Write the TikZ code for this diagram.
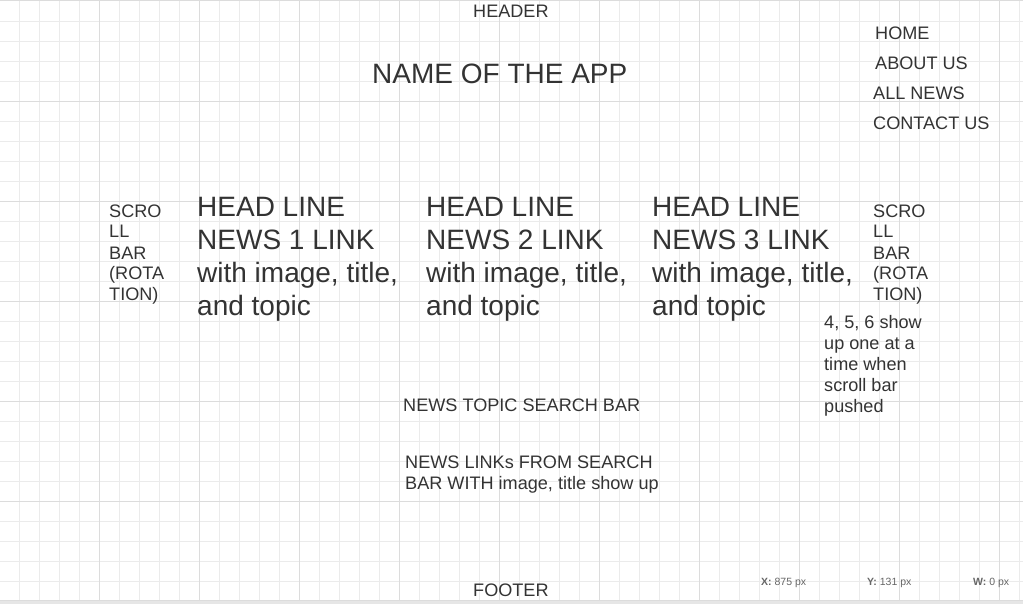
\documentclass[tikz,border=0pt]{standalone}
\usepackage{fontspec}
\setmainfont{Liberation Sans}
\definecolor{txt}{HTML}{333333}
\definecolor{gridminor}{HTML}{EBEBEB}
\definecolor{gridmajor}{HTML}{DCDCDC}
\definecolor{band}{HTML}{E6E6E6}
\definecolor{stat}{HTML}{666666}
\tikzset{
  minorline/.style={draw=gridminor, line width=1pt},
  majorline/.style={draw=gridmajor, line width=1pt},
  big/.style={anchor=base west, inner sep=0pt, align=left, text=txt, font=\fontsize{28}{32.67}\selectfont},
  small/.style={anchor=base west, inner sep=0pt, align=left, text=txt, font=\fontsize{18.1}{21}\selectfont},
  status/.style={anchor=base west, inner sep=0pt, text=stat, font=\fontsize{10.5}{12}\selectfont},
}
\begin{document}
\begin{tikzpicture}[x=1pt,y=-1pt]
\useasboundingbox (0,0) rectangle (1023,604);
\fill[white] (0,0) rectangle (1023,604);
% grid
\foreach \i in {0,...,50} {
  \pgfmathsetmacro\xx{19.5+20*\i}
  \draw[minorline] (\xx,0) -- (\xx,600);
}
\foreach \i in {0,...,28} {
  \pgfmathsetmacro\yy{21.5+20*\i}
  \draw[minorline] (0,\yy) -- (1023,\yy);
}
\foreach \i in {0,...,9} {
  \pgfmathsetmacro\xx{99.5+100*\i}
  \draw[majorline] (\xx,0) -- (\xx,600);
}
\foreach \i in {1,...,5} {
  \pgfmathsetmacro\yy{1.5+100*\i}
  \draw[majorline] (0,\yy) -- (1023,\yy);
}
\draw[majorline] (0,0.5) -- (1023,0.5);
\fill[band] (0,600) rectangle (1023,604);
\draw[gridmajor, line width=0.8pt] (0,600.4) -- (1023,600.4);

% texts (multi-line nodes are placed by the baseline of their last line)
\node[small] (header) at (473,17.5) {HEADER};
\node[big] (appname) at (372,84) {NAME OF THE APP};
\node[small] (home) at (875,39.5) {HOME};
\node[small] (about) at (875,69.5) {ABOUT US};
\node[small] (allnews) at (873,99.5) {ALL NEWS};
\node[small] (contact) at (873,129.5) {CONTACT US};

\node[small] (scrollL) at (109,301) {SCRO\\LL\\BAR\\(ROTA\\TION)};
\node[small] (scrollR) at (873,301) {SCRO\\LL\\BAR\\(ROTA\\TION)};

\node[big] (news1) at (197,315) {HEAD LINE\\NEWS 1 LINK\\with image, title,\\and topic};
\node[big] (news2) at (426,315) {HEAD LINE\\NEWS 2 LINK\\with image, title,\\and topic};
\node[big] (news3) at (652,315) {HEAD LINE\\NEWS 3 LINK\\with image, title,\\and topic};

\node[small] (more) at (824,412.5) {4, 5, 6 show\\up one at a\\time when\\scroll bar\\pushed};

\node[small] (search) at (403,411.5) {NEWS TOPIC SEARCH BAR};
\node[small] (links) at (405,489.5) {NEWS LINKs FROM SEARCH\\BAR WITH image, title show up};

\node[small] (footer) at (473,596.5) {FOOTER};

\node[status] (sx) at (761,585) {\textbf{X:} 875 px};
\node[status] (sy) at (867,585) {\textbf{Y:} 131 px};
\node[status] (sw) at (973,585) {\textbf{W:} 0 px};
\end{tikzpicture}
\end{document}
